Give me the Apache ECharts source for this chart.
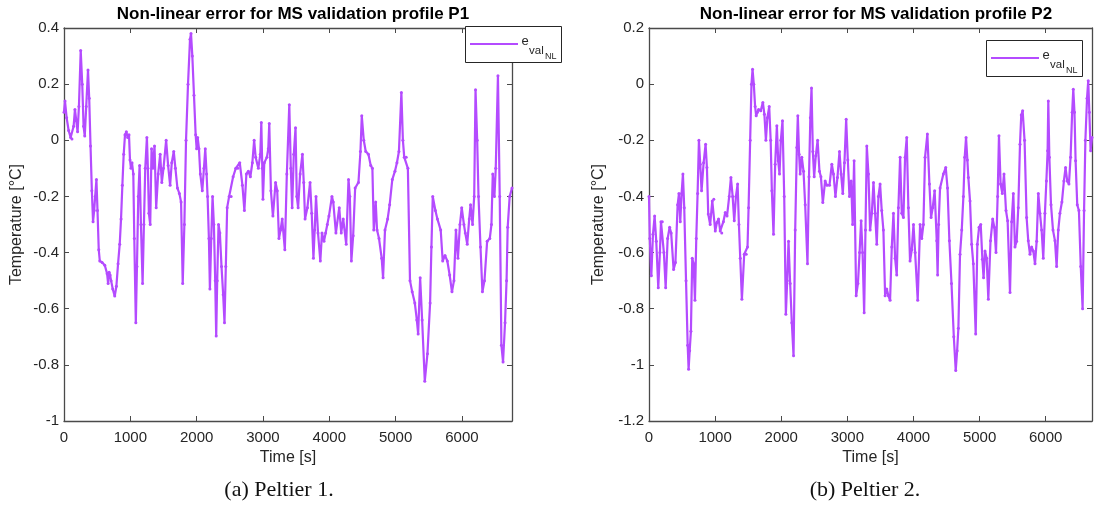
<!DOCTYPE html>
<html>
<head>
<meta charset="utf-8">
<script src="https://cdn.jsdelivr.net/npm/echarts@6/dist/echarts.min.js"></script>
<style>
html,body{margin:0;padding:0;background:#fff;}
#chart{width:1095px;height:517px;}
</style>
</head>
<body>
<div id="chart"></div>
<script>
// ---- Data ----
const titles = ['Non-linear error for MS validation profile P1', 'Non-linear error for MS validation profile P2'];
const captions = ['(a) Peltier 1.', '(b) Peltier 2.'];
const xName = 'Time [s]';
const yName = 'Temperature [\u00B0C]';
const seriesNames = ['e_val_NL (P1)', 'e_val_NL (P2)'];
const legendParts = ['e', 'val', 'NL'];

const p1Time = [0,15,40,70,100,120,145,165,185,205,225,252,275,295,313,335,362,380,400,420,438,455,470,489,505,524,540,575,615,650,665,680,695,710,735,765,790,815,840,860,880,900,920,940,960,980,995,1010,1025,1045,1060,1083,1100,1120,1140,1160,1185,1205,1225,1250,1265,1280,1300,1320,1340,1365,1390,1420,1450,1475,1500,1540,1570,1600,1625,1655,1680,1710,1740,1765,1790,1815,1840,1870,1900,1915,1935,1960,1985,2000,2015,2035,2055,2085,2110,2130,2150,2165,2185,2200,2220,2240,2260,2280,2295,2310,2330,2350,2375,2400,2420,2440,2460,2490,2520,2550,2590,2620,2650,2690,2720,2750,2780,2810,2840,2867,2890,2930,2960,2975,2990,3000,3020,3060,3080,3095,3120,3150,3190,3215,3241,3265,3290,3330,3360,3397,3420,3440,3465,3491,3510,3530,3560,3595,3615,3635,3670,3710,3735,3761,3780,3800,3830,3865,3890,3920,3945,3970,3995,4040,4060,4100,4150,4180,4210,4255,4290,4310,4333,4360,4390,4440,4470,4490,4520,4550,4590,4625,4650,4671,4700,4720,4750,4790,4811,4840,4880,4910,4950,4990,5020,5050,5087,5110,5130,5160,5185,5217,5250,5290,5320,5340,5370,5400,5440,5480,5520,5540,5560,5600,5630,5680,5710,5745,5780,5815,5850,5880,5910,5940,5970,5997,6030,6050,6080,6110,6130,6160,6185,6205,6230,6250,6280,6309,6340,6380,6420,6445,6465,6490,6510,6543,6570,6595,6620,6650,6673,6690,6720,6755];
const p1Value = [0.10,0.14,0.08,0.035,0.01,0.005,0.05,0.11,0.07,0.03,0.12,0.32,0.2,0.05,0.015,0.12,0.25,0.15,-0.02,-0.18,-0.29,-0.25,-0.2,-0.14,-0.25,-0.39,-0.43,-0.435,-0.445,-0.475,-0.51,-0.47,-0.48,-0.5,-0.53,-0.555,-0.52,-0.44,-0.37,-0.28,-0.16,-0.05,0.02,0.03,0.01,0.02,-0.07,-0.1,-0.08,-0.12,-0.35,-0.65,-0.45,-0.2,-0.09,-0.3,-0.51,-0.3,-0.1,0.01,-0.1,-0.26,-0.3,-0.03,-0.1,-0.02,-0.24,-0.12,-0.05,-0.15,-0.1,0.0,-0.09,-0.16,-0.08,-0.04,-0.1,-0.17,-0.19,-0.22,-0.51,-0.3,0.0,0.2,0.36,0.38,0.3,0.16,0.02,-0.03,0.01,-0.03,-0.12,-0.18,-0.1,-0.03,-0.12,-0.2,-0.35,-0.53,-0.35,-0.2,-0.3,-0.5,-0.697,-0.5,-0.3,-0.33,-0.45,-0.55,-0.65,-0.45,-0.24,-0.2,-0.2,-0.13,-0.1,-0.1,-0.08,-0.16,-0.25,-0.12,-0.11,-0.13,-0.08,0.0,-0.06,-0.1,-0.05,0.063,-0.1,-0.21,-0.08,-0.06,-0.03,0.06,-0.18,-0.27,-0.15,-0.18,-0.35,-0.32,-0.28,-0.39,-0.12,0.127,-0.1,-0.24,-0.05,0.045,-0.2,-0.24,-0.12,-0.05,-0.15,-0.28,-0.24,-0.15,-0.26,-0.42,-0.32,-0.2,-0.33,-0.43,-0.33,-0.36,-0.33,-0.3,-0.27,-0.2,-0.22,-0.33,-0.24,-0.33,-0.28,-0.37,-0.14,-0.2,-0.43,-0.34,-0.17,-0.15,-0.04,0.087,0.0,-0.04,-0.05,-0.09,-0.1,-0.32,-0.22,-0.32,-0.35,-0.42,-0.49,-0.32,-0.28,-0.23,-0.14,-0.11,-0.08,-0.04,0.17,0.0,-0.06,-0.06,-0.1,-0.5,-0.54,-0.58,-0.64,-0.69,-0.49,-0.64,-0.858,-0.76,-0.58,-0.38,-0.2,-0.25,-0.28,-0.32,-0.43,-0.41,-0.43,-0.48,-0.54,-0.5,-0.32,-0.42,-0.3,-0.24,-0.3,-0.33,-0.37,-0.28,-0.23,-0.3,-0.2,0.18,0.0,-0.2,-0.38,-0.54,-0.5,-0.36,-0.35,-0.3,-0.12,-0.2,-0.1,0.23,-0.2,-0.73,-0.79,-0.65,-0.5,-0.31,-0.2,-0.17];

const p2Time = [0,12,35,60,85,110,140,165,181,201,225,252,282,312,335,372,400,433,453,473,493,513,533,560,585,599,615,634,654,675,695,715,735,755,775,795,826,856,876,896,925,957,980,1002,1027,1052,1077,1100,1125,1153,1180,1213,1239,1265,1289,1315,1340,1360,1380,1405,1440,1470,1490,1506,1530,1550,1566,1585,1605,1621,1640,1657,1690,1722,1745,1768,1790,1818,1840,1858,1883,1908,1934,1954,1974,1994,2019,2045,2070,2090,2110,2135,2160,2186,2211,2236,2251,2270,2286,2311,2337,2362,2397,2420,2440,2458,2478,2498,2523,2550,2578,2600,2629,2664,2690,2730,2765,2790,2820,2850,2881,2905,2931,2956,2982,3007,3032,3057,3080,3102,3133,3160,3185,3208,3230,3254,3274,3294,3319,3344,3370,3395,3420,3445,3470,3495,3520,3545,3571,3596,3621,3646,3672,3697,3722,3747,3772,3798,3823,3848,3873,3898,3923,3948,3974,4000,4025,4064,4100,4125,4150,4175,4210,4241,4266,4291,4320,4352,4365,4380,4402,4452,4488,4515,4543,4575,4610,4639,4660,4679,4704,4730,4755,4775,4795,4815,4830,4855,4880,4905,4941,4966,4992,5017,5042,5060,5082,5107,5132,5165,5198,5223,5248,5273,5293,5318,5344,5369,5399,5424,5460,5485,5510,5535,5560,5585,5611,5630,5651,5680,5711,5736,5762,5787,5812,5838,5863,5888,5913,5938,5963,5988,6010,6029,6039,6055,6080,6110,6140,6165,6190,6215,6245,6275,6300,6325,6351,6376,6400,6417,6435,6452,6477,6502,6530,6558,6580,6600,6625,6643,6660,6679,6700];
const p2Value = [-0.40,-0.55,-0.683,-0.535,-0.47,-0.56,-0.725,-0.6,-0.49,-0.49,-0.6,-0.725,-0.55,-0.51,-0.53,-0.66,-0.635,-0.43,-0.39,-0.49,-0.39,-0.32,-0.44,-0.7,-0.93,-1.016,-0.95,-0.88,-0.62,-0.64,-0.77,-0.55,-0.39,-0.2,-0.285,-0.38,-0.28,-0.214,-0.297,-0.463,-0.5,-0.416,-0.41,-0.523,-0.493,-0.48,-0.523,-0.53,-0.49,-0.457,-0.47,-0.40,-0.333,-0.4,-0.487,-0.4,-0.356,-0.5,-0.62,-0.766,-0.606,-0.606,-0.58,-0.44,-0.2,0.0,0.053,0.0,-0.08,-0.113,-0.1,-0.09,-0.095,-0.065,-0.107,-0.2,-0.12,-0.08,-0.2,-0.38,-0.535,-0.285,-0.148,-0.273,-0.32,-0.2,-0.13,-0.4,-0.82,-0.7,-0.56,-0.71,-0.85,-0.968,-0.52,-0.226,-0.113,-0.25,-0.32,-0.26,-0.31,-0.43,-0.64,-0.33,-0.12,-0.014,-0.24,-0.33,-0.255,-0.2,-0.31,-0.33,-0.422,-0.345,-0.36,-0.36,-0.285,-0.32,-0.40,-0.333,-0.24,-0.32,-0.39,-0.28,-0.125,-0.27,-0.40,-0.345,-0.5,-0.273,-0.754,-0.71,-0.6,-0.487,-0.6,-0.814,-0.52,-0.22,-0.32,-0.52,-0.46,-0.35,-0.46,-0.57,-0.4,-0.356,-0.45,-0.52,-0.754,-0.73,-0.754,-0.77,-0.58,-0.46,-0.62,-0.68,-0.44,-0.26,-0.46,-0.475,-0.26,-0.19,-0.44,-0.63,-0.59,-0.5,-0.6,-0.77,-0.5,-0.55,-0.5,-0.26,-0.178,-0.356,-0.475,-0.44,-0.38,-0.558,-0.68,-0.5,-0.37,-0.32,-0.297,-0.37,-0.558,-0.71,-0.9,-1.02,-0.95,-0.87,-0.606,-0.52,-0.40,-0.26,-0.19,-0.27,-0.333,-0.416,-0.57,-0.64,-0.89,-0.57,-0.51,-0.5,-0.624,-0.69,-0.594,-0.62,-0.766,-0.558,-0.48,-0.51,-0.6,-0.40,-0.184,-0.356,-0.39,-0.32,-0.45,-0.487,-0.742,-0.49,-0.39,-0.58,-0.56,-0.44,-0.214,-0.11,-0.095,-0.2,-0.475,-0.558,-0.606,-0.58,-0.594,-0.64,-0.56,-0.39,-0.46,-0.52,-0.62,-0.46,-0.345,-0.237,-0.06,-0.26,-0.43,-0.52,-0.558,-0.65,-0.52,-0.46,-0.42,-0.345,-0.297,-0.345,-0.356,-0.26,-0.1,-0.018,-0.1,-0.273,-0.43,-0.45,-0.65,-0.8,-0.45,-0.2,-0.05,0.012,-0.1,-0.237,-0.19];

const xMax = [6755, 6700];
const yMin = [-1, -1.2];
const yMax = [0.4, 0.2];
const yInterval = 0.2;
const xInterval = 1000;

// ---- Styling ----
const lineColor = '#b44bff';
const axisColor = '#4a4a4a';
const textColor = '#262626';
const sans = 'Liberation Sans, Arial, Helvetica, sans-serif';
const serif = 'Liberation Serif, Times New Roman, serif';
const grids = [
  {left: 64, top: 28, width: 448, height: 393},
  {left: 649, top: 28, width: 443, height: 393}
];
// legend box placement (pixels) for each panel
const legendBoxes = [{x: 465, y: 26}, {x: 986, y: 40}];

function pairs(t, v) { return t.map((x, i) => [x, v[i]]); }

const xAxes = [], yAxes = [];
[0, 1].forEach(g => {
  xAxes.push({
    type: 'value', gridIndex: g, position: 'bottom', min: 0, max: xMax[g], interval: xInterval,
    name: xName, nameLocation: 'middle', nameGap: 27,
    nameTextStyle: {fontFamily: sans, fontSize: 16, color: textColor},
    axisLine: {show: true, onZero: false, lineStyle: {color: axisColor, width: 1.3}},
    axisTick: {show: true, inside: true, length: 5, lineStyle: {color: axisColor, width: 1}},
    axisLabel: {show: true, margin: 9, fontFamily: sans, fontSize: 15, color: textColor, showMaxLabel: false,
      formatter: v => (v % xInterval === 0 ? String(v) : '')},
    splitLine: {show: false}
  });
});
[0, 1].forEach(g => {
  xAxes.push({
    type: 'value', gridIndex: g, position: 'top', min: 0, max: xMax[g], interval: xInterval,
    axisLine: {show: true, onZero: false, lineStyle: {color: axisColor, width: 1.3}},
    axisTick: {show: true, inside: true, length: 5, lineStyle: {color: axisColor, width: 1}},
    axisLabel: {show: false}, splitLine: {show: false}
  });
});
[0, 1].forEach(g => {
  yAxes.push({
    type: 'value', gridIndex: g, position: 'left', min: yMin[g], max: yMax[g], interval: yInterval,
    name: yName, nameLocation: 'middle', nameGap: g === 0 ? 39 : 42, nameRotate: 90,
    nameTextStyle: {fontFamily: sans, fontSize: 16, color: textColor},
    axisLine: {show: true, onZero: false, lineStyle: {color: axisColor, width: 1.3}},
    axisTick: {show: true, inside: true, length: 5, lineStyle: {color: axisColor, width: 1}},
    axisLabel: {show: true, margin: 5, fontFamily: sans, fontSize: 15, color: textColor},
    splitLine: {show: false}
  });
});
[0, 1].forEach(g => {
  yAxes.push({
    type: 'value', gridIndex: g, position: 'right', min: yMin[g], max: yMax[g], interval: yInterval,
    axisLine: {show: true, onZero: false, lineStyle: {color: axisColor, width: 1.3}},
    axisTick: {show: true, inside: true, length: 5, lineStyle: {color: axisColor, width: 1}},
    axisLabel: {show: false}, splitLine: {show: false}
  });
});

// Legend boxes (MATLAB style with subscript text e_{val_{NL}})
function legendGraphic(b) {
  const x = b.x, y = b.y;
  return [
    {type: 'rect', silent: true, z: 50,
     shape: {x: x + 0.5, y: y + 0.5, width: 96, height: 36},
     style: {fill: '#fff', stroke: '#262626', lineWidth: 1}},
    {type: 'line', silent: true, z: 51,
     shape: {x1: x + 5, y1: y + 18, x2: x + 53, y2: y + 18},
     style: {stroke: lineColor, lineWidth: 2}},
    {type: 'text', silent: true, z: 51, x: x + 56.5, y: y + 15.5,
     style: {text: legendParts[0], font: '13px ' + sans, fill: textColor, textAlign: 'left', textVerticalAlign: 'middle', verticalAlign: 'middle'}},
    {type: 'text', silent: true, z: 51, x: x + 64, y: y + 25,
     style: {text: legendParts[1], font: '11.5px ' + sans, fill: textColor, textAlign: 'left', textVerticalAlign: 'middle', verticalAlign: 'middle'}},
    {type: 'text', silent: true, z: 51, x: x + 80, y: y + 31,
     style: {text: legendParts[2], font: '9px ' + sans, fill: textColor, textAlign: 'left', textVerticalAlign: 'middle', verticalAlign: 'middle'}}
  ];
}

const option = {
  backgroundColor: '#fff',
  animation: false,
  title: [
    {text: titles[0], left: 288, top: 1, textAlign: 'center',
     textStyle: {fontFamily: sans, fontSize: 17, fontWeight: 'bold', color: '#000'}},
    {text: titles[1], left: 871, top: 1, textAlign: 'center',
     textStyle: {fontFamily: sans, fontSize: 17, fontWeight: 'bold', color: '#000'}},
    {text: captions[0], left: 274, top: 474, textAlign: 'center',
     textStyle: {fontFamily: serif, fontSize: 22, fontWeight: 'normal', color: '#111'}},
    {text: captions[1], left: 860, top: 474, textAlign: 'center',
     textStyle: {fontFamily: serif, fontSize: 22, fontWeight: 'normal', color: '#111'}}
  ],
  grid: grids,
  xAxis: xAxes,
  yAxis: yAxes,
  series: [
    {name: seriesNames[0], type: 'line', xAxisIndex: 0, yAxisIndex: 0, data: pairs(p1Time, p1Value),
     showSymbol: true, showAllSymbol: true, symbol: 'circle', symbolSize: 3,
     lineStyle: {color: lineColor, width: 2.2}, itemStyle: {color: lineColor}, z: 3},
    {name: seriesNames[1], type: 'line', xAxisIndex: 1, yAxisIndex: 1, data: pairs(p2Time, p2Value),
     showSymbol: true, showAllSymbol: true, symbol: 'circle', symbolSize: 3,
     lineStyle: {color: lineColor, width: 2.2}, itemStyle: {color: lineColor}, z: 3}
  ],
  graphic: legendGraphic(legendBoxes[0]).concat(legendGraphic(legendBoxes[1]))
};

const chart = echarts.init(document.getElementById('chart'), null, {renderer: 'canvas'});
chart.setOption(option);
</script>
</body>
</html>
